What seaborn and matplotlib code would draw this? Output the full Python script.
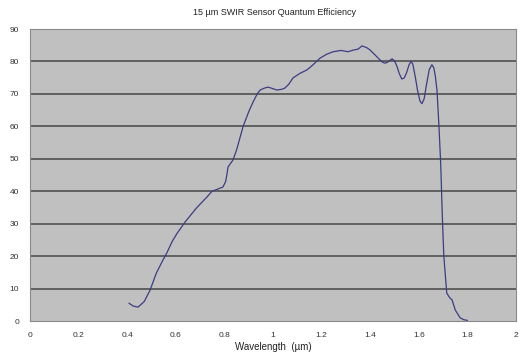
import numpy as np
import pandas as pd
import matplotlib
matplotlib.use('Agg')
import matplotlib.pyplot as plt
import seaborn as sns

# Quantum efficiency curve
wavelength = [0.407, 0.425, 0.445, 0.47, 0.494, 0.52, 0.545, 0.563, 0.585, 0.605,
              0.638, 0.665, 0.687, 0.71, 0.728, 0.749, 0.77, 0.794, 0.805, 0.81,
              0.815, 0.835, 0.85, 0.877, 0.9, 0.918, 0.935, 0.947, 0.965, 0.98,
              1.0, 1.016, 1.035, 1.049, 1.065, 1.082, 1.11, 1.14, 1.165, 1.193,
              1.22, 1.247, 1.28, 1.309, 1.33, 1.35, 1.366, 1.385, 1.40, 1.42,
              1.44, 1.45, 1.46, 1.47, 1.48, 1.49, 1.50, 1.51, 1.52, 1.53,
              1.54, 1.55, 1.56, 1.568, 1.575, 1.585, 1.595, 1.605, 1.613, 1.622,
              1.632, 1.643, 1.654, 1.662, 1.668, 1.675, 1.683, 1.69, 1.697, 1.703,
              1.715, 1.727, 1.737, 1.75, 1.77, 1.785, 1.80]
efficiency = [5.5, 4.6, 4.3, 6.0, 9.5, 14.8, 18.5, 21.0, 24.5, 27.0,
              30.5, 33.0, 35.0, 36.8, 38.2, 40.0, 40.6, 41.3, 43.0, 45.0,
              47.5, 49.6, 52.7, 60.0, 64.5, 67.5, 70.0, 71.2, 71.8, 72.1,
              71.6, 71.2, 71.4, 71.8, 73.0, 74.9, 76.3, 77.4, 79.0, 81.0,
              82.2, 83.0, 83.4, 83.0, 83.5, 83.8, 84.8, 84.3, 83.5, 82.0,
              80.5, 79.8, 79.5, 79.7, 80.3, 80.8, 80.2, 78.5, 76.2, 74.6,
              74.9, 76.6, 79.0, 80.0, 79.3, 75.5, 71.0, 67.8, 67.0, 68.5,
              73.0, 77.5, 79.0, 78.0, 75.5, 71.0, 60.0, 48.7, 32.0, 20.0,
              8.6, 7.2, 6.5, 3.4, 1.0, 0.4, 0.2]

x_ticks = [0, 0.2, 0.4, 0.6, 0.8, 1, 1.2, 1.4, 1.6, 1.8, 2]
y_ticks = [0, 10, 20, 30, 40, 50, 60, 70, 80, 90]

df = pd.DataFrame({'wavelength': wavelength, 'qe': efficiency})

sns.set_style('white')
plt.rcParams['font.family'] = ['Liberation Sans', 'DejaVu Sans']

fig = plt.figure(figsize=(5.23, 3.54), dpi=100)
ax = fig.add_axes([0.0574, 0.0932, 0.9292, 0.8248])
ax.set_facecolor('#c0c0c0')

for v in y_ticks[1:-1]:
    ax.axhline(v, color='#505050', lw=1.2, zorder=1)

sns.lineplot(data=df, x='wavelength', y='qe', ax=ax, color='#3c3c84', lw=0.9, zorder=3)

ax.set_xlim(0, 2)
ax.set_ylim(0, 90)
ax.set_xticks(x_ticks)
ax.set_xticklabels([f'{t:g}' for t in x_ticks])
ax.set_yticks(y_ticks)
ax.tick_params(axis='both', labelsize=6, colors='#333333', length=2, width=0.6, pad=6)
for s in ax.spines.values():
    s.set_color('#8a8a8a')
    s.set_linewidth(0.8)

ax.set_xlabel('Wavelength  (µm)', fontsize=7, color='#222222', labelpad=2)
ax.set_ylabel('')
fig.text(0.525, 0.965, '15 µm SWIR Sensor Quantum Efficiency', ha='center', va='center',
         fontsize=6.5, color='#222222')

plt.savefig('out.png', dpi=100)
